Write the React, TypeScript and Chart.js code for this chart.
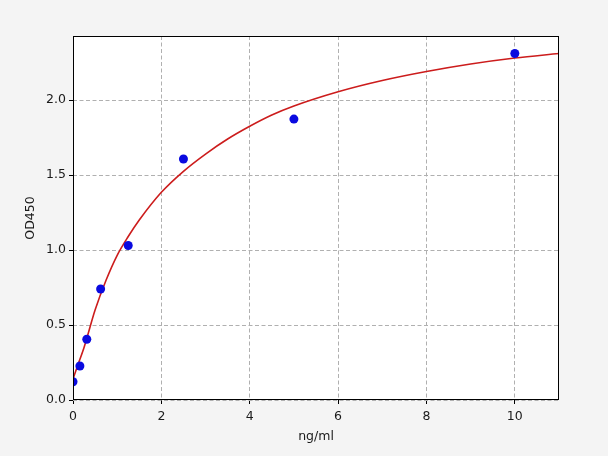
import React, { useEffect, useRef } from "react";
import { Chart, registerables } from "chart.js";

Chart.register(...registerables);

// standards (ng/ml vs OD450)
const concentrations = [0, 0.156, 0.312, 0.625, 1.25, 2.5, 5, 10];
const odValues = [0.122, 0.227, 0.405, 0.74, 1.03, 1.607, 1.873, 2.31];

// fitted curve
const curveX = [0, 0.1, 0.25, 0.5, 0.75, 1, 1.25, 1.5, 2, 2.5, 3, 3.5, 4, 4.5, 5, 6, 7, 8, 9, 10, 11];
const curveY = [0.14, 0.225, 0.35, 0.6, 0.8, 0.965, 1.09, 1.2, 1.385, 1.525, 1.64, 1.74, 1.825, 1.9, 1.96, 2.055, 2.13, 2.19, 2.24, 2.28, 2.31];

const xTicks = [0, 2, 4, 6, 8, 10];
const yTicks = [0, 0.5, 1, 1.5, 2];

const FONT = "'DejaVu Sans', sans-serif";

// page background + white plot area + black frame
const framePlugin = {
  id: "frame",
  beforeDraw(chart: Chart) {
    const { ctx, chartArea: a } = chart;
    ctx.save();
    ctx.fillStyle = "#f4f4f4";
    ctx.fillRect(0, 0, chart.width, chart.height);
    ctx.fillStyle = "#ffffff";
    ctx.fillRect(a.left, a.top, a.right - a.left, a.bottom - a.top);
    ctx.restore();
  },
  afterDatasetsDraw(chart: Chart) {
    const { ctx, chartArea: a } = chart;
    ctx.save();
    ctx.strokeStyle = "#000000";
    ctx.lineWidth = 1;
    ctx.strokeRect(a.left + 0.5, a.top + 0.5, a.right - a.left - 1, a.bottom - a.top - 1);
    ctx.restore();
  },
};

const App: React.FC = () => {
  const ref = useRef<HTMLCanvasElement>(null);

  useEffect(() => {
    document.body.style.margin = "0";
    if (!ref.current) return;
    const chart = new Chart(ref.current, {
      type: "scatter",
      data: {
        datasets: [
          {
            label: "fit",
            data: curveX.map((x, i) => ({ x, y: curveY[i] })),
            showLine: true,
            borderColor: "#cc1c1c",
            borderWidth: 1.6,
            pointRadius: 0,
            cubicInterpolationMode: "monotone",
            order: 2,
          },
          {
            label: "standards",
            data: concentrations.map((x, i) => ({ x, y: odValues[i] })),
            backgroundColor: "#0a0ae0",
            borderWidth: 0,
            pointRadius: 4.5,
            order: 1,
          },
        ],
      },
      options: {
        responsive: false,
        animation: false,
        layout: { padding: { top: 36, right: 49, left: 0, bottom: 0 } },
        plugins: { legend: { display: false }, tooltip: { enabled: false } },
        scales: {
          x: {
            type: "linear",
            min: 0,
            max: 11,
            afterBuildTicks: s => { s.ticks = xTicks.map(v => ({ value: v })); },
            afterFit: s => { s.height = 56; },
            ticks: { color: "#1a1a1a", font: { family: FONT, size: 12.5 }, padding: 5, maxRotation: 0 },
            grid: { color: "#b0b0b0", tickColor: "#000", tickLength: 4, tickBorderDash: [], lineWidth: 1 },
            border: { display: false, dash: [4, 2.5] },
            title: { display: true, text: "ng/ml", color: "#1a1a1a", font: { family: FONT, size: 12.5 }, padding: { bottom: 12 } },
          },
          y: {
            type: "linear",
            min: 0,
            max: 2.427,
            afterBuildTicks: s => { s.ticks = yTicks.map(v => ({ value: v })); },
            afterFit: s => { s.width = 73; },
            ticks: { color: "#1a1a1a", font: { family: FONT, size: 12.5 }, padding: 3, callback: v => Number(v).toFixed(1) },
            grid: { color: "#b0b0b0", tickColor: "#000", tickLength: 4, tickBorderDash: [], lineWidth: 1 },
            border: { display: false, dash: [4, 2.5] },
            title: { display: true, text: "OD450", color: "#1a1a1a", font: { family: FONT, size: 12.5 }, padding: { top: 23 } },
          },
        },
      },
      plugins: [framePlugin],
    });
    return () => chart.destroy();
  }, []);

  return <canvas ref={ref} width={608} height={456} style={{ display: "block" }} />;
};

export default App;
